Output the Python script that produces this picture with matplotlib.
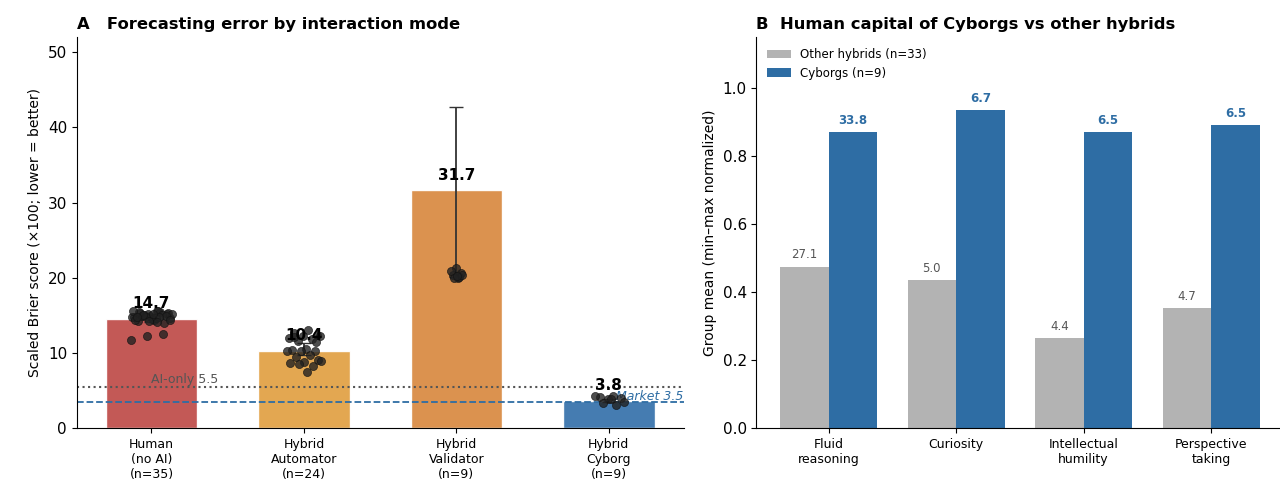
import matplotlib.pyplot as plt
import numpy as np

# panel A data
modes = ["Human\n(no AI)\n(n=35)", "Hybrid\nAutomator\n(n=24)", "Hybrid\nValidator\n(n=9)", "Hybrid\nCyborg\n(n=9)"]
bar_heights = [14.55, 10.3, 31.6, 3.6]
bar_labels = ["14.7", "10.4", "31.7", "3.8"]
err_low = [14.1, 9.7, 20.1, 3.4]
err_high = [15.1, 11.3, 42.7, 3.9]
human_pts = [15.5, 15.3, 15.1, 14.9, 14.8, 15.4, 15.0, 14.6, 14.4, 14.2, 14.0, 15.2,
             14.7, 15.6, 14.9, 15.3, 14.5, 14.3, 15.0, 14.8, 15.1, 14.6, 15.4, 14.9,
             14.2, 15.5, 14.7, 15.0, 14.4, 15.2, 14.8, 12.5, 12.3, 11.7, 14.1]
automator_pts = [13.0, 12.6, 12.4, 12.2, 12.0, 11.8, 11.6, 12.3, 10.5, 10.4, 10.3, 10.2,
                 10.3, 9.7, 9.4, 9.0, 8.8, 8.6, 8.3, 8.5, 8.9, 7.4, 12.1, 11.5]
validator_pts = [20.0, 20.3, 20.6, 21.3, 20.9, 20.1, 19.9, 20.4, 20.2]
cyborg_pts = [4.2, 4.1, 4.0, 3.9, 4.3, 3.0, 3.3, 3.5, 3.8]
ai_only = 5.5
market = 3.5

# panel B data
traits = ["Fluid\nreasoning", "Curiosity", "Intellectual\nhumility", "Perspective\ntaking"]
other_norm = [0.475, 0.435, 0.265, 0.352]
cyborg_norm = [0.870, 0.935, 0.870, 0.891]
other_raw = ["27.1", "5.0", "4.4", "4.7"]
cyborg_raw = ["33.8", "6.7", "6.5", "6.5"]

colors = ["#c0504d", "#e2a247", "#d98c45", "#3b75ad"]
blue = "#2e6da4"
grey = "#b3b3b3"

fig = plt.figure(figsize=(12.8, 4.83), dpi=100)
ax1 = fig.add_axes([0.060, 0.114, 0.474, 0.809])
ax2 = fig.add_axes([0.591, 0.114, 0.409, 0.809])

# ---- A ----
x = np.arange(len(modes))
ax1.bar(x, bar_heights, width=0.6, color=colors, alpha=0.95, edgecolor="white", linewidth=1, zorder=2)
for i in range(len(modes)):
    ax1.errorbar(x[i], (err_low[i] + err_high[i]) / 2, yerr=(err_high[i] - err_low[i]) / 2,
                 color="#333333", capsize=5, linewidth=1.3, zorder=3)

groups = [human_pts, automator_pts, validator_pts, cyborg_pts]
spreads = [0.14, 0.12, 0.04, 0.11]
for i, pts in enumerate(groups):
    n = len(pts)
    # deterministic jitter
    offs = (((np.arange(n) + 1) * 0.6180339) % 1 * 2 - 1) * spreads[i]
    ax1.scatter(x[i] + offs, pts, s=34, color="#222222", alpha=0.8, edgecolor="#111111",
                linewidth=0.5, zorder=4)

for i in range(len(modes)):
    ax1.text(x[i], bar_heights[i] + 1.0, bar_labels[i], ha="center", va="bottom",
             fontsize=11, fontweight="bold", zorder=5)

ax1.axhline(ai_only, color="#555555", linestyle=":", linewidth=1.5, zorder=2.5)
ax1.axhline(market, color="#2e6da4", linestyle="--", linewidth=1.3, zorder=2.5)
ax1.text(-0.0, ai_only + 0.5, "AI-only 5.5", color="#555555", fontsize=9)
ax1.text(3.05, market + 0.2, "Market 3.5", color="#2e6da4", fontsize=9, style="italic")

ax1.set_xticks(x)
ax1.set_xticklabels(modes, fontsize=9)
ax1.set_xlim(-0.49, 3.49)
ax1.set_ylim(0, 52)
ax1.tick_params(axis="y", labelsize=11)
ax1.set_ylabel("Scaled Brier score (×100; lower = better)", fontsize=10)
ax1.set_title("A   Forecasting error by interaction mode", loc="left", fontweight="bold", fontsize=11.8)
ax1.spines["top"].set_visible(False)
ax1.spines["right"].set_visible(False)

# ---- B ----
xb = np.arange(len(traits))
w = 0.38
ax2.bar(xb - w / 2, other_norm, width=w, color=grey, label="Other hybrids (n=33)")
ax2.bar(xb + w / 2, cyborg_norm, width=w, color=blue, label="Cyborgs (n=9)")
for i in range(len(traits)):
    ax2.text(xb[i] - w / 2, other_norm[i] + 0.015, other_raw[i], ha="center", va="bottom",
             fontsize=8.5, color="#555555")
    ax2.text(xb[i] + w / 2, cyborg_norm[i] + 0.015, cyborg_raw[i], ha="center", va="bottom",
             fontsize=8.5, color=blue, fontweight="bold")

ax2.set_xticks(xb)
ax2.set_xticklabels(traits, fontsize=9)
ax2.set_xlim(-0.565, 3.54)
ax2.set_ylim(0, 1.15)
ax2.tick_params(axis="y", labelsize=11)
ax2.set_ylabel("Group mean (min–max normalized)", fontsize=10)
ax2.set_title("B  Human capital of Cyborgs vs other hybrids", loc="left", fontweight="bold", fontsize=11.8)
ax2.legend(loc="upper left", frameon=False, fontsize=8.5)
ax2.spines["top"].set_visible(False)
ax2.spines["right"].set_visible(False)

fig.savefig("out.png", dpi=100)
